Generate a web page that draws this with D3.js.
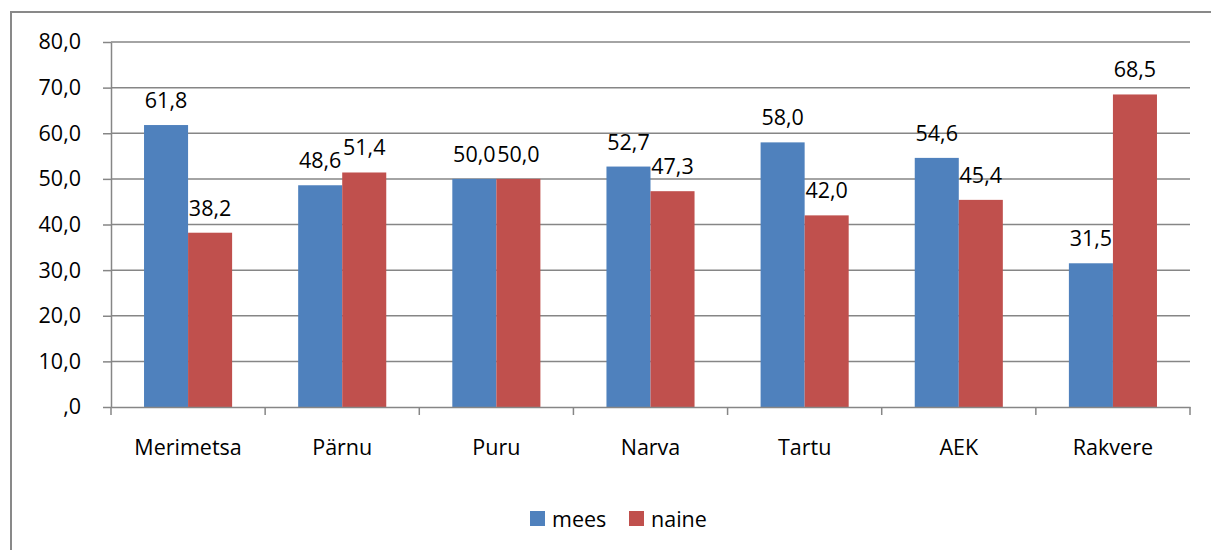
<!DOCTYPE html>
<html>
<head>
<meta charset="utf-8">
<script src="https://cdn.jsdelivr.net/npm/d3@7"></script>
<style>
  body { margin: 0; background: #fff; }
  text { font-family: "Open Sans", "Noto Sans", sans-serif; fill: #000; }
</style>
</head>
<body>
<div id="chart"></div>
<script>
const categories = ["Merimetsa", "Pärnu", "Puru", "Narva", "Tartu", "AEK", "Rakvere"];
const seriesNames = ["mees", "naine"];
const mees = [61.8, 48.6, 50.0, 52.7, 58.0, 54.6, 31.5];
const naine = [38.2, 51.4, 50.0, 47.3, 42.0, 45.4, 68.5];
const yTicks = [0, 10, 20, 30, 40, 50, 60, 70, 80];
const colors = ["#4f81bd", "#c0504d"];

const width = 1211, height = 550;
const margin = { left: 111, right: 21, top: 42, bottom: 143 };
const fontSize = "21.5px";

const svg = d3.select("#chart").append("svg")
    .attr("width", width)
    .attr("height", height);

// chart border
svg.append("path")
    .attr("d", `M11,${height + 5}V12H${width + 5}`)
    .attr("fill", "none")
    .attr("stroke", "#898989")
    .attr("stroke-width", 2);

const x = d3.scaleBand()
    .domain(categories)
    .range([margin.left, width - margin.right]);

const x1 = d3.scaleBand()
    .domain(seriesNames)
    .range([0, x.bandwidth()])
    .paddingInner(0)
    .paddingOuter(0.75);

const y = d3.scaleLinear()
    .domain([0, 80])
    .range([height - margin.bottom, margin.top]);

const fmt = v => (v === 0 ? "" : d3.format(".0f")(Math.floor(v))) + "," + d3.format(".1f")(v).split(".")[1];

// gridlines
svg.append("g")
    .selectAll("line")
    .data(yTicks.slice(1))
    .enter().append("line")
    .attr("x1", margin.left)
    .attr("x2", width - margin.right)
    .attr("y1", d => y(d))
    .attr("y2", d => y(d))
    .attr("stroke", "#868686")
    .attr("stroke-width", 1.5);

// y axis
const yAxis = svg.append("g")
    .attr("transform", `translate(${margin.left},0)`)
    .call(d3.axisLeft(y).tickValues(yTicks).tickSize(8).tickPadding(22).tickFormat(fmt).tickSizeOuter(0));
yAxis.select(".domain").attr("stroke", "#868686").attr("stroke-width", 1.5);
yAxis.selectAll(".tick line").attr("stroke", "#868686").attr("stroke-width", 1.5);
yAxis.selectAll(".tick text").style("font-size", fontSize).attr("fill", "#000");

// bars
const data = categories.map((c, i) => ({ cat: c, values: [mees[i], naine[i]] }));
const groups = svg.append("g")
    .selectAll("g")
    .data(data)
    .enter().append("g")
    .attr("transform", d => `translate(${x(d.cat)},0)`);

groups.selectAll("rect")
    .data(d => d.values.map((v, j) => ({ key: seriesNames[j], v, j })))
    .enter().append("rect")
    .attr("x", d => x1(d.key))
    .attr("width", x1.bandwidth())
    .attr("y", d => y(d.v))
    .attr("height", d => y(0) - y(d.v))
    .attr("fill", d => colors[d.j]);

groups.selectAll("text.val")
    .data(d => d.values.map((v, j) => ({ key: seriesNames[j], v, j })))
    .enter().append("text")
    .attr("class", "val")
    .attr("x", d => x1(d.key) + x1.bandwidth() / 2)
    .attr("y", d => y(d.v) - 17)
    .attr("text-anchor", "middle")
    .style("font-size", fontSize)
    .text(d => fmt(d.v));

// x axis
const xAxis = svg.append("g")
    .attr("transform", `translate(0,${y(0)})`)
    .call(d3.axisBottom(x).tickSize(0).tickPadding(33).tickSizeOuter(0));
xAxis.select(".domain").attr("stroke", "#868686").attr("stroke-width", 1.5);
xAxis.selectAll(".tick text").style("font-size", fontSize).attr("fill", "#000");

svg.append("g")
    .selectAll("line")
    .data(categories.concat(["end"]))
    .enter().append("line")
    .attr("x1", (d, i) => margin.left + i * x.bandwidth())
    .attr("x2", (d, i) => margin.left + i * x.bandwidth())
    .attr("y1", y(0))
    .attr("y2", y(0) + 8)
    .attr("stroke", "#868686")
    .attr("stroke-width", 1.5);

// legend
const legend = svg.append("g")
    .selectAll("g")
    .data(seriesNames)
    .enter().append("g")
    .attr("transform", (d, i) => `translate(${530 + i * 99},511)`);
legend.append("rect")
    .attr("width", 15)
    .attr("height", 15)
    .attr("fill", (d, i) => colors[i]);
legend.append("text")
    .attr("x", 22)
    .attr("y", 16)
    .style("font-size", fontSize)
    .text(d => d);
</script>
</body>
</html>
